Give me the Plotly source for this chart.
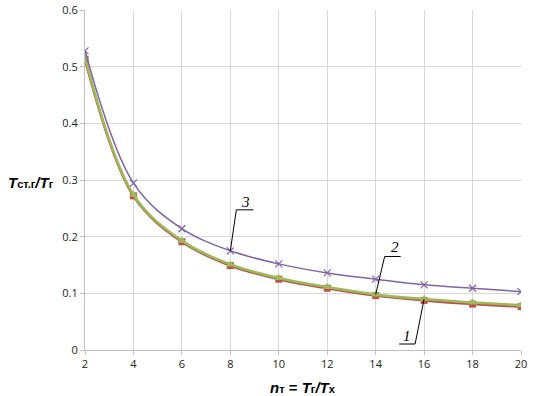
import plotly.graph_objects as go

n_t = [2, 4, 6, 8, 10, 12, 14, 16, 18, 20]
curve1 = [0.513, 0.272, 0.191, 0.149, 0.125, 0.109, 0.096, 0.0875, 0.081, 0.0765]
curve2 = [0.516, 0.274, 0.193, 0.151, 0.127, 0.111, 0.098, 0.090, 0.084, 0.079]
curve3 = [0.528, 0.2945, 0.214, 0.175, 0.152, 0.136, 0.125, 0.115, 0.109, 0.103]
labels = ["1", "2", "3"]

fig = go.Figure()
fig.add_trace(go.Scatter(x=n_t, y=curve1, mode="lines+markers",
                         line=dict(color="#c0504d", width=2.5, shape="spline", smoothing=1),
                         marker=dict(symbol="square", size=7, color="#c0504d")))
fig.add_trace(go.Scatter(x=n_t, y=curve2, mode="lines+markers",
                         line=dict(color="#9bbb59", width=2.5, shape="spline", smoothing=1),
                         marker=dict(symbol="triangle-up", size=8, color="#9bbb59")))
fig.add_trace(go.Scatter(x=n_t, y=curve3, mode="lines+markers",
                         line=dict(color="#8064a2", width=1.5, shape="spline", smoothing=1),
                         marker=dict(symbol="x-thin-open", size=7, color="#8064a2",
                                     line=dict(color="#8064a2", width=1.2))))

# leader lines (pixel offsets anchored on data points)
leaders = [
    (n_t[7], curve2[7], [(0, 0), (-9, -45), (-25, -45)]),
    (n_t[6], curve2[6], [(0, 0), (9, 38), (25, 38)]),
    (n_t[3], curve3[3], [(0, 0), (6, 41), (23, 41)]),
]
shapes = []
for xa, ya, pts in leaders:
    for (x0, y0), (x1, y1) in zip(pts[:-1], pts[1:]):
        shapes.append(dict(type="line", xref="x", yref="y", xsizemode="pixel", ysizemode="pixel",
                           xanchor=xa, yanchor=ya, x0=x0, y0=y0, x1=x1, y1=y1,
                           line=dict(color="black", width=1)))

label_pos = [(n_t[7], curve2[7], -17, -37), (n_t[6], curve2[6], 19, 47), (n_t[3], curve3[3], 15, 49)]
annotations = []
for lab, (xa, ya, dx, dy) in zip(labels, label_pos):
    annotations.append(dict(x=xa, y=ya, xref="x", yref="y", xshift=dx, yshift=dy, text=f"<i>{lab}</i>",
                            showarrow=False, font=dict(family="Liberation Serif", size=15, color="black")))

small = '<span style="font-size:11px">'
annotations.append(dict(x=0, y=0.3, xref="paper", yref="y", xanchor="center", yanchor="middle",
                        xshift=-54, yshift=-2, showarrow=False,
                        text=f"<b><i>T</i>{small}ст.г</span><i>/T</i>{small}г</span></b>",
                        font=dict(family="Liberation Sans", size=15, color="black")))
annotations.append(dict(x=11, y=0, xref="x", yref="paper", xanchor="center", yanchor="middle",
                        yshift=-37, showarrow=False,
                        text=f"<b><i>n</i>{small}т</span> = <i>T</i>{small}г</span><i>/T</i>{small}x</span></b>",
                        font=dict(family="Liberation Sans", size=15, color="black")))

fig.update_layout(
    width=537, height=396, showlegend=False,
    margin=dict(l=85, r=16, t=10, b=46),
    paper_bgcolor="white", plot_bgcolor="white",
    shapes=shapes, annotations=annotations,
    xaxis=dict(range=[2, 20], dtick=2, tick0=2, showgrid=True, gridcolor="#d9d9d9", gridwidth=1,
               showline=True, linecolor="#bfbfbf", ticks="outside", ticklen=4, tickcolor="#bfbfbf",
               zeroline=False, automargin=False, tickfont=dict(family="Open Sans", size=11, color="#222")),
    yaxis=dict(range=[0, 0.6], dtick=0.1, showgrid=True, gridcolor="#d9d9d9", gridwidth=1,
               showline=True, linecolor="#bfbfbf", ticks="outside", ticklen=4, tickcolor="#bfbfbf",
               zeroline=False, automargin=False, tickfont=dict(family="Open Sans", size=11, color="#222")),
)
fig.write_html("out.html", post_script="document.body.style.margin='0';",
               config={"displayModeBar": False})
